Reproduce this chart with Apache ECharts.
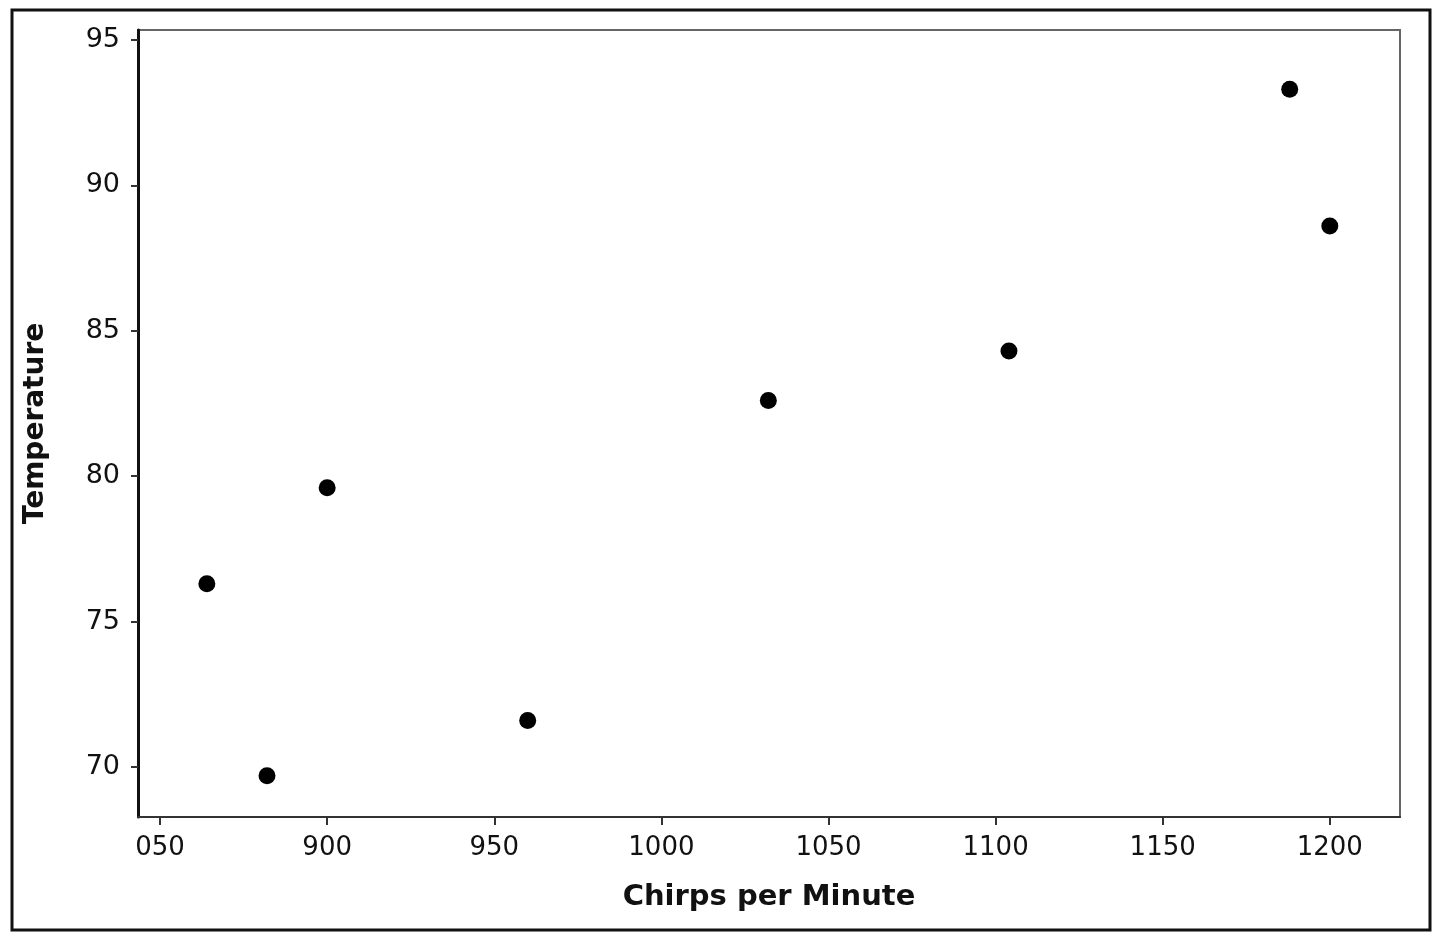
<!DOCTYPE html>
<html><head><meta charset="utf-8">
<script src="https://cdn.jsdelivr.net/npm/echarts@6/dist/echarts.min.js"></script>
<style>html,body{margin:0;padding:0;background:#fff}#c{width:1440px;height:941px}</style>
</head><body><div id="c"></div>
<script>
const chirps = [882, 1188, 1104, 864, 1200, 1032, 960, 900];
const temperature = [69.7, 93.3, 84.3, 76.3, 88.6, 82.6, 71.6, 79.6];
const xTicks = [850, 900, 950, 1000, 1050, 1100, 1150, 1200];
const xTickLabels = ['050', '900', '950', '1000', '1050', '1100', '1150', '1200'];
const yTicks = [70, 75, 80, 85, 90, 95];
const yTickLabels = ['70', '75', '80', '85', '90', '95'];
const xTitle = 'Chirps per Minute';
const yTitle = 'Temperature';

const chart = echarts.init(document.getElementById('c'));
const font = 'DejaVu Sans';
chart.setOption({
  backgroundColor: '#fff',
  animation: false,
  graphic: [{
    type: 'rect', shape: {x: 12, y: 10, width: 1418, height: 920},
    style: {fill: 'none', stroke: '#111', lineWidth: 3}, z: 100
  }],
  grid: {left: 138, right: 40, top: 30, bottom: 124, show: true, borderColor: '#666', borderWidth: 2, backgroundColor: '#fff'},
  xAxis: {
    type: 'value', min: 843.4, max: 1221,
    name: xTitle, nameLocation: 'middle', nameGap: 66,
    nameTextStyle: {fontFamily: font, fontSize: 29, fontWeight: 'bold', color: '#111'},
    axisLine: {show: true, lineStyle: {color: '#333', width: 2}},
    axisTick: {show: true, length: 8, customValues: xTicks, lineStyle: {color: '#333', width: 2}},
    axisLabel: {customValues: xTicks, margin: 18, fontFamily: font, fontSize: 26, color: '#111',
      formatter: v => xTickLabels[xTicks.indexOf(v)] ?? ''},
    splitLine: {show: false}
  },
  yAxis: {
    type: 'value', min: 68.28, max: 95.34,
    name: yTitle, nameLocation: 'middle', nameGap: 88,
    nameTextStyle: {fontFamily: font, fontSize: 28, fontWeight: 'bold', color: '#111'},
    axisLine: {show: true, lineStyle: {color: '#111', width: 3}},
    axisTick: {show: true, length: 7, customValues: yTicks, lineStyle: {color: '#333', width: 2}},
    axisLabel: {customValues: yTicks, margin: 18, fontFamily: font, fontSize: 27, color: '#111',
      formatter: v => yTickLabels[yTicks.indexOf(v)] ?? ''},
    splitLine: {show: false}
  },
  series: [{
    type: 'scatter',
    data: chirps.map((c, i) => [c, temperature[i]]),
    symbol: 'circle', symbolSize: 17,
    itemStyle: {color: '#000', opacity: 1}
  }]
});
</script></body></html>
